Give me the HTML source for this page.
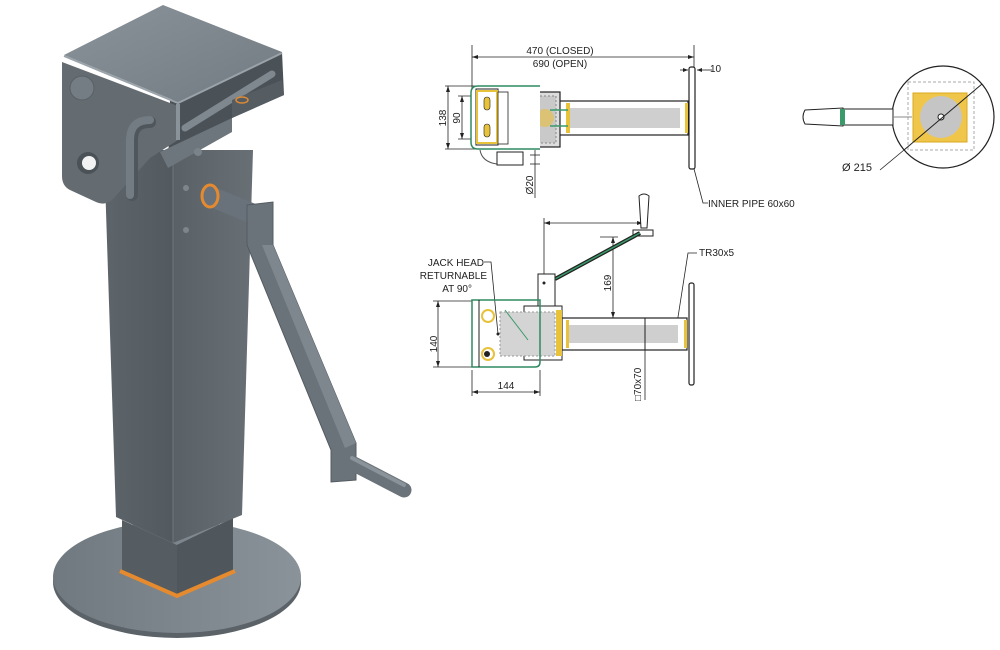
<!DOCTYPE html>
<html><head><meta charset="utf-8"><style>
html,body{margin:0;padding:0;background:#fff;}
svg{display:block;}
text{font-family:"Liberation Sans",sans-serif;fill:#222;}
</style></head><body>
<svg width="1000" height="650" viewBox="0 0 1000 650" xmlns="http://www.w3.org/2000/svg">
<defs>
<linearGradient id="gL" x1="0" x2="1"><stop offset="0" stop-color="#5d656b"/><stop offset="1" stop-color="#525a60"/></linearGradient>
<linearGradient id="gR" x1="0" x2="1"><stop offset="0" stop-color="#596167"/><stop offset="1" stop-color="#687076"/></linearGradient>
<linearGradient id="gTop" x1="0" y1="0" x2="1" y2="1"><stop offset="0" stop-color="#8a939a"/><stop offset="1" stop-color="#727b82"/></linearGradient>
<linearGradient id="gDisk" x1="0" x2="1"><stop offset="0" stop-color="#707980"/><stop offset="1" stop-color="#8a9399"/></linearGradient>
</defs>

<!-- base disk -->
<ellipse cx="177" cy="582" rx="124" ry="56" fill="#5b6369"/>
<ellipse cx="177" cy="577" rx="124" ry="56" fill="url(#gDisk)"/>
<!-- inner tube -->
<polygon points="122,520 177,545 233,518 233,572 177,595 122,572" fill="#555d63"/>
<polygon points="177,545 233,518 233,572 177,595" fill="#4f575d"/>
<polyline points="120,571 177,596 235,571" fill="none" stroke="#e58a2e" stroke-width="4"/>
<!-- column -->
<polygon points="104,150 173,150 173,543 116,517" fill="url(#gL)"/>
<polygon points="173,150 253,150 242,515 173,543" fill="url(#gR)"/>
<line x1="173" y1="150" x2="173" y2="543" stroke="#6e777d" stroke-width="1"/>
<circle cx="186" cy="188" r="3" fill="#7d868c"/>
<circle cx="186" cy="230" r="3" fill="#7d868c"/>
<!-- head side slot (behind) -->
<polygon points="170,100 282,52 284,95 232,118 232,130 168,168" fill="#4a5258"/>
<line x1="185" y1="128" x2="272" y2="74" stroke="#7f888e" stroke-width="7" stroke-linecap="round"/>
<polygon points="160,152 232,118 232,132 168,168" fill="#6d767c"/>
<polygon points="232,100 282,80 284,95 232,118" fill="#555d63"/>
<ellipse cx="242" cy="100" rx="6" ry="3" fill="none" stroke="#e08a30" stroke-width="1.5"/>
<circle cx="198" cy="152" r="4" fill="#7a8389"/>
<!-- head front plate -->
<path d="M62,62 L178,106 L178,140 L150,158 L112,200 Q104,206 96,202 L70,190 Q62,186 62,176 Z" fill="#646c72"/>
<!-- head top -->
<polygon points="64,55 163,5 282,52 178,102" fill="url(#gTop)"/>
<polyline points="64,56 178,103 282,53" fill="none" stroke="#9aa3a9" stroke-width="2"/>
<line x1="178" y1="104" x2="178" y2="140" stroke="#8a9399" stroke-width="4"/>
<!-- bolt & hole -->
<circle cx="82" cy="88" r="12" fill="#747d83" stroke="#596167"/>
<circle cx="88" cy="163" r="11" fill="#4a5258"/>
<circle cx="89" cy="163" r="7" fill="#f2f2f2"/>
<!-- loop handle -->
<path d="M132,195 L132,140 Q132,122 150,122" fill="none" stroke="#4f575d" stroke-width="12" stroke-linecap="round"/>
<path d="M130,195 L130,140 Q130,120 150,120" fill="none" stroke="#737c82" stroke-width="8" stroke-linecap="round"/>
<!-- crank shaft -->
<line x1="212" y1="197" x2="256" y2="215" stroke="#69727a" stroke-width="20"/>
<ellipse cx="210" cy="196" rx="8" ry="11" fill="#69727a" stroke="#e58a2e" stroke-width="3"/>
<!-- crank arm -->
<polygon points="247,205 273,202 273,245 356,443 356,480 331,482 331,450 247,245" fill="#6a7379" stroke="#545c62"/>
<polygon points="262,245 273,245 356,443 345,448" fill="#7e878d"/>
<line x1="350" y1="462" x2="404" y2="490" stroke="#6a7379" stroke-width="15" stroke-linecap="round"/>
<line x1="352" y1="458" x2="404" y2="485" stroke="#8a9399" stroke-width="4" stroke-linecap="round"/>

<!-- ============ TOP VIEW DRAWING ============ -->
<g stroke="#222" stroke-width="0.8" fill="none">
<line x1="472" y1="45" x2="472" y2="88"/>
<line x1="694" y1="45" x2="694" y2="68"/>
<line x1="472" y1="57" x2="694" y2="57"/>
<line x1="680" y1="70" x2="688" y2="70"/><line x1="697" y1="70" x2="712" y2="70"/>
<line x1="445" y1="86" x2="478" y2="86"/><line x1="445" y1="149" x2="478" y2="149"/>
<line x1="448" y1="86" x2="448" y2="149"/>
<line x1="458" y1="96" x2="480" y2="96"/><line x1="458" y1="139" x2="480" y2="139"/>
<line x1="462" y1="96" x2="462" y2="139"/>
<line x1="535" y1="150" x2="535" y2="198"/>
<line x1="530" y1="155" x2="540" y2="155"/><line x1="530" y1="164" x2="540" y2="164"/>
<polyline points="693,165 703,203 708,203"/>
</g>
<g fill="#222">
<polygon points="472,57 478,55 478,59"/><polygon points="694,57 688,55 688,59"/>
<polygon points="688,70 683,68 683,72"/><polygon points="697,70 702,68 702,72"/>
<polygon points="448,86 446,92 450,92"/><polygon points="448,149 446,143 450,143"/>
<polygon points="462,96 460,102 464,102"/><polygon points="462,139 460,133 464,133"/>
</g>
<text x="560" y="54" font-size="10" text-anchor="middle">470 (CLOSED)</text>
<text x="560" y="67" font-size="10" text-anchor="middle">690 (OPEN)</text>
<text x="710" y="72" font-size="10">10</text>
<text transform="translate(446,118) rotate(-90)" font-size="10" text-anchor="middle">138</text>
<text transform="translate(460,118) rotate(-90)" font-size="10" text-anchor="middle">90</text>
<text transform="translate(501,118) rotate(-90)" font-size="10" text-anchor="middle">118</text>
<text transform="translate(533,185) rotate(-90)" font-size="10" text-anchor="middle">Ø20</text>
<text x="708" y="207" font-size="10">INNER PIPE 60x60</text>
<rect x="558" y="101" width="130" height="34" fill="#fff" stroke="#222" stroke-width="1.2"/>
<rect x="567" y="108" width="113" height="20" fill="#cfcfcf"/>
<rect x="566" y="103" width="4" height="30" fill="#e8c23a"/>
<rect x="685" y="103" width="3" height="30" fill="#e8c23a"/>
<rect x="689" y="67" width="6" height="102" rx="2" fill="#fff" stroke="#222" stroke-width="1.2"/>
<rect x="508" y="92" width="52" height="55" fill="#ddd" stroke="#222" stroke-width="1.2"/>
<rect x="512" y="96" width="44" height="47" fill="#c9c9c9" stroke="#888" stroke-dasharray="2,2"/>
<circle cx="545" cy="118" r="9" fill="#e0c060" opacity="0.8"/>
<line x1="550" y1="110" x2="568" y2="110" stroke="#3a9a6a" stroke-width="1.5"/>
<line x1="550" y1="126" x2="568" y2="126" stroke="#3a9a6a" stroke-width="1.5"/>
<path d="M540,86 L478,86 Q471,86 471,93 L471,142 Q471,149 478,149 L540,149" fill="#fff" stroke="#2f8a60" stroke-width="1.5"/>
<rect x="476" y="89" width="22" height="56" fill="#fff" stroke="#222"/>
<rect x="477" y="91" width="20" height="52" fill="none" stroke="#e8c23a" stroke-width="2"/>
<rect x="484" y="97" width="6" height="13" rx="3" fill="#e8c23a" stroke="#222" stroke-width="0.6"/>
<rect x="484" y="124" width="6" height="13" rx="3" fill="#e8c23a" stroke="#222" stroke-width="0.6"/>
<rect x="498" y="92" width="10" height="52" fill="#fff" stroke="#222" stroke-width="0.8"/>
<path d="M480,150 Q482,162 497,164" fill="none" stroke="#555" stroke-width="1"/>
<rect x="497" y="152" width="26" height="13" fill="#fff" stroke="#222"/>

<!-- ============ CIRCLE VIEW ============ -->
<circle cx="943" cy="117" r="51" fill="#fff" stroke="#222" stroke-width="1.2"/>
<rect x="908" y="82" width="66" height="68" fill="none" stroke="#aaa" stroke-dasharray="3,2"/>
<rect x="913" y="93" width="54" height="49" fill="#f0c64a" stroke="#d8a820"/>
<circle cx="941" cy="117" r="21" fill="#c5c5c5"/>
<circle cx="941" cy="117" r="3" fill="#fff" stroke="#222"/>
<path d="M805,110 L843,108 L843,126 L805,124 Q801,117 805,110Z" fill="#fff" stroke="#222"/>
<rect x="843" y="109" width="50" height="16" fill="#fff" stroke="#222"/>
<rect x="840" y="109" width="5" height="16" fill="#3a9a6a"/>
<line x1="893" y1="117" x2="912" y2="117" stroke="#888"/>
<line x1="904" y1="150" x2="982" y2="84" stroke="#222"/>
<polyline points="880,170 904,150" fill="none" stroke="#222" stroke-width="0.8"/>
<text x="842" y="171" font-size="11">Ø 215</text>

<!-- ============ SIDE VIEW ============ -->
<g stroke="#222" stroke-width="0.8" fill="none">
<line x1="544" y1="218" x2="544" y2="278"/>
<line x1="544" y1="223" x2="643" y2="223"/>
<line x1="600" y1="237" x2="618" y2="237"/>
<line x1="613" y1="237" x2="613" y2="318"/>
<line x1="438" y1="301" x2="438" y2="367"/>
<line x1="433" y1="301" x2="472" y2="301"/><line x1="433" y1="367" x2="472" y2="367"/>
<line x1="472" y1="370" x2="472" y2="396"/><line x1="540" y1="370" x2="540" y2="396"/>
<line x1="472" y1="392" x2="540" y2="392"/>
<line x1="645" y1="318" x2="645" y2="400"/>
<polyline points="484,262 491,262 498,334"/>
<polyline points="697,253 688,253 676,330"/>
</g>
<g fill="#222">
<polygon points="544,223 550,221 550,225"/><polygon points="643,223 637,221 637,225"/>
<polygon points="613,237 611,243 615,243"/><polygon points="613,318 611,312 615,312"/>
<polygon points="438,301 436,307 440,307"/><polygon points="438,367 436,361 440,361"/>
<polygon points="472,392 478,390 478,394"/><polygon points="540,392 534,390 534,394"/>
</g>
<text transform="translate(611,283) rotate(-90)" font-size="10" text-anchor="middle">169</text>
<text transform="translate(437,344) rotate(-90)" font-size="10" text-anchor="middle">140</text>
<text x="506" y="389" font-size="10" text-anchor="middle">144</text>
<text transform="translate(641,401) rotate(-90)" font-size="10">□70x70</text>
<text x="699" y="256" font-size="10">TR30x5</text>
<text x="484" y="266" font-size="10" text-anchor="end">JACK HEAD</text>
<text x="487" y="279" font-size="10" text-anchor="end">RETURNABLE</text>
<text x="472" y="292" font-size="10" text-anchor="end">AT 90°</text>
<path d="M639,196 Q644,192 649,196 L647,228 L641,228Z" fill="#fff" stroke="#222"/>
<rect x="633" y="230" width="20" height="6" fill="#fff" stroke="#222"/>
<line x1="555" y1="279" x2="640" y2="233" stroke="#222" stroke-width="4"/>
<line x1="555" y1="279" x2="640" y2="233" stroke="#3a9a6a" stroke-width="1.5"/>
<rect x="538" y="274" width="17" height="32" fill="#fff" stroke="#222"/>
<circle cx="544" cy="283" r="1.5" fill="#222"/>
<rect x="562" y="318" width="125" height="32" fill="#fff" stroke="#222" stroke-width="1.2"/>
<rect x="568" y="325" width="110" height="18" fill="#cfcfcf"/>
<rect x="566" y="320" width="3" height="28" fill="#e8c23a"/>
<rect x="684" y="320" width="3" height="28" fill="#e8c23a"/>
<line x1="645" y1="318" x2="645" y2="350" stroke="#222"/>
<rect x="689" y="283" width="5" height="102" rx="2" fill="#fff" stroke="#222" stroke-width="1.2"/>
<rect x="524" y="306" width="38" height="54" fill="#fff" stroke="#222"/>
<rect x="556" y="310" width="6" height="46" fill="#e8c23a"/>
<rect x="500" y="312" width="55" height="44" fill="#d4d4d4" stroke="#999" stroke-dasharray="2,2"/>
<path d="M472,300 L540,300 L540,362 Q540,367 535,367 L472,367Z" fill="none" stroke="#2f8a60" stroke-width="1.5"/>
<line x1="479" y1="300" x2="479" y2="367" stroke="#222"/>
<circle cx="488" cy="316" r="6" fill="#fff" stroke="#e8c23a" stroke-width="2"/>
<circle cx="488" cy="354" r="6" fill="#fff" stroke="#e8c23a" stroke-width="2"/>
<circle cx="487" cy="354" r="3" fill="#222"/>
<circle cx="498" cy="334" r="1.5" fill="#222"/>
<line x1="505" y1="310" x2="528" y2="340" stroke="#3a9a6a" stroke-width="1"/>
</svg>
</body></html>
